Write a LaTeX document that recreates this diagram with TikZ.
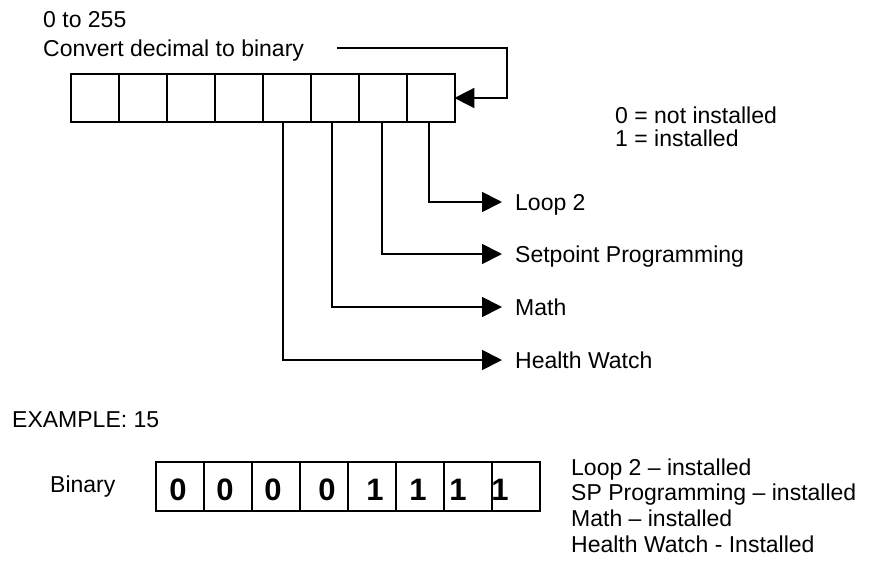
\documentclass[tikz,border=0pt]{standalone}
\usepackage{fontspec}
\setmainfont{Liberation Sans}
\usetikzlibrary{arrows.meta}
\begin{document}
\begin{tikzpicture}[x=1pt,y=-1pt,
  cell/.style={draw, line width=1.8pt, minimum width=48pt, minimum height=48pt, inner sep=0pt},
  bcell/.style={cell, minimum height=49pt},
  digit/.style={anchor=base, inner sep=0pt, font=\fontsize{31}{34}\selectfont\bfseries},
  txt/.style={anchor=base west, inner sep=0pt, font=\fontsize{23}{27}\selectfont},
  lbl/.style={anchor=west, inner xsep=13pt, inner ysep=0pt, text height=16.5pt, text depth=0pt, font=\fontsize{23}{27}\selectfont},
  conn/.style={line width=1.8pt},
  arr/.style={conn, -{Triangle[length=20pt,width=20pt]}}
]
\useasboundingbox (0,0) rectangle (870,565);

% top texts
\node[txt] (range) at (43,27) {0 to 255};
\node[txt] (conv) at (43,56) {Convert decimal to binary};
\node[txt] (n0) at (615,123) {0 = not installed};
\node[txt] (n1) at (615,146) {1 = installed};

% top cells
\foreach \i in {1,...,8}{
  \node[cell] (t\i) at (47+48*\i, 98) {};
}

% feedback arrow
\coordinate (fb) at (337,48);
\coordinate (fbc) at (507,48);
\draw[arr, shorten >=-1.5pt] (fb) -- (fbc) |- (t8.east);

% labels
\node[lbl] (loop) at (502,202) {Loop 2};
\node[lbl] (sp) at (502,254) {Setpoint Programming};
\node[lbl] (math) at (502,307) {Math};
\node[lbl] (hw) at (502,360) {Health Watch};

\draw[arr] ([xshift=-2pt]t8.south) |- (loop.west);
\draw[arr] ([xshift=-1pt]t7.south) |- (sp.west);
\draw[arr] ([xshift=-3pt]t6.south) |- (math.west);
\draw[arr] ([xshift=-4pt]t5.south) |- (hw.west);

% example
\node[txt] (ex) at (12,427) {EXAMPLE: 15};
\node[txt] (bin) at (50,492) {Binary};
\foreach \i/\v/\dx in {1/0/-2,2/0/-3,3/0/-3,4/0/3,5/1/3,6/1/-2,7/1/-10,8/1/-16}{
  \node[bcell] (b\i) at (132+48*\i, 486.5) {};
  \node[digit] (d\i) at ([xshift=\dx pt, yshift=-14pt]b\i.center) {\v};
}
\node[txt] (r1) at (571,475) {Loop 2 – installed};
\node[txt] (r2) at (571,500) {SP Programming – installed};
\node[txt] (r3) at (571,526) {Math – installed};
\node[txt] (r4) at (571,552) {Health Watch - Installed};
\end{tikzpicture}
\end{document}
